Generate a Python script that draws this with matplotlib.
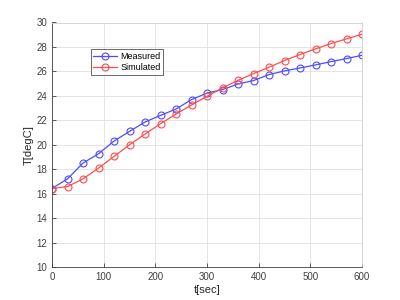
import matplotlib
matplotlib.use("Agg")
import matplotlib.pyplot as plt

# Sample times (s) and temperatures (degC)
t_sec = [0, 30, 60, 90, 120, 150, 180, 210, 240, 270, 300,
         330, 360, 390, 420, 450, 480, 510, 540, 570, 600]
measured = [16.42, 17.21, 18.50, 19.26, 20.30, 21.09, 21.86, 22.40, 22.92, 23.69, 24.23,
            24.51, 24.97, 25.25, 25.74, 26.04, 26.28, 26.53, 26.80, 27.05, 27.32]
simulated = [16.42, 16.58, 17.21, 18.09, 19.04, 20.00, 20.87, 21.72, 22.51, 23.25, 23.96,
             24.65, 25.27, 25.82, 26.34, 26.89, 27.38, 27.84, 28.28, 28.66, 29.04]

x_ticks = [0, 100, 200, 300, 400, 500, 600]
y_ticks = [10, 12, 14, 16, 18, 20, 22, 24, 26, 28, 30]

plt.rcParams["font.family"] = ["Liberation Sans", "DejaVu Sans"]

fig = plt.figure(figsize=(4, 3), dpi=100)
ax = fig.add_axes([0.13, 0.11, 0.775, 0.815])

ax.plot(t_sec, measured, color="#4d4dff", marker="o", mfc="none",
        ms=5, lw=0.9, mew=0.8, label="Measured")
ax.plot(t_sec, simulated, color="#ff4d4d", marker="o", mfc="none",
        ms=5, lw=0.9, mew=0.8, label="Simulated")

ax.set_xlim(0, 600)
ax.set_ylim(10, 30)
ax.set_xticks(x_ticks)
ax.set_yticks(y_ticks)
ax.grid(True, color="#e0e0e0", lw=0.6)
ax.set_axisbelow(True)
ax.tick_params(labelsize=7, colors="#404040", direction="in", length=3, width=0.6)
for sp in ax.spines.values():
    sp.set_color("#404040")
    sp.set_linewidth(0.6)
ax.spines["top"].set_color("#d0d0d0")
ax.spines["right"].set_color("#d0d0d0")

ax.set_xlabel("t[sec]", fontsize=8, color="#262626", labelpad=2)
ax.set_ylabel("T[degC]", fontsize=8, color="#262626", labelpad=2)

leg = ax.legend(loc="upper left", bbox_to_anchor=(0.11, 0.91), fontsize=6.5,
                frameon=True, fancybox=False, edgecolor="#262626",
                handlelength=2.6, borderpad=0.3, labelspacing=0.3,
                handletextpad=0.4)
leg.get_frame().set_linewidth(0.6)

fig.savefig("out.png", dpi=100)
